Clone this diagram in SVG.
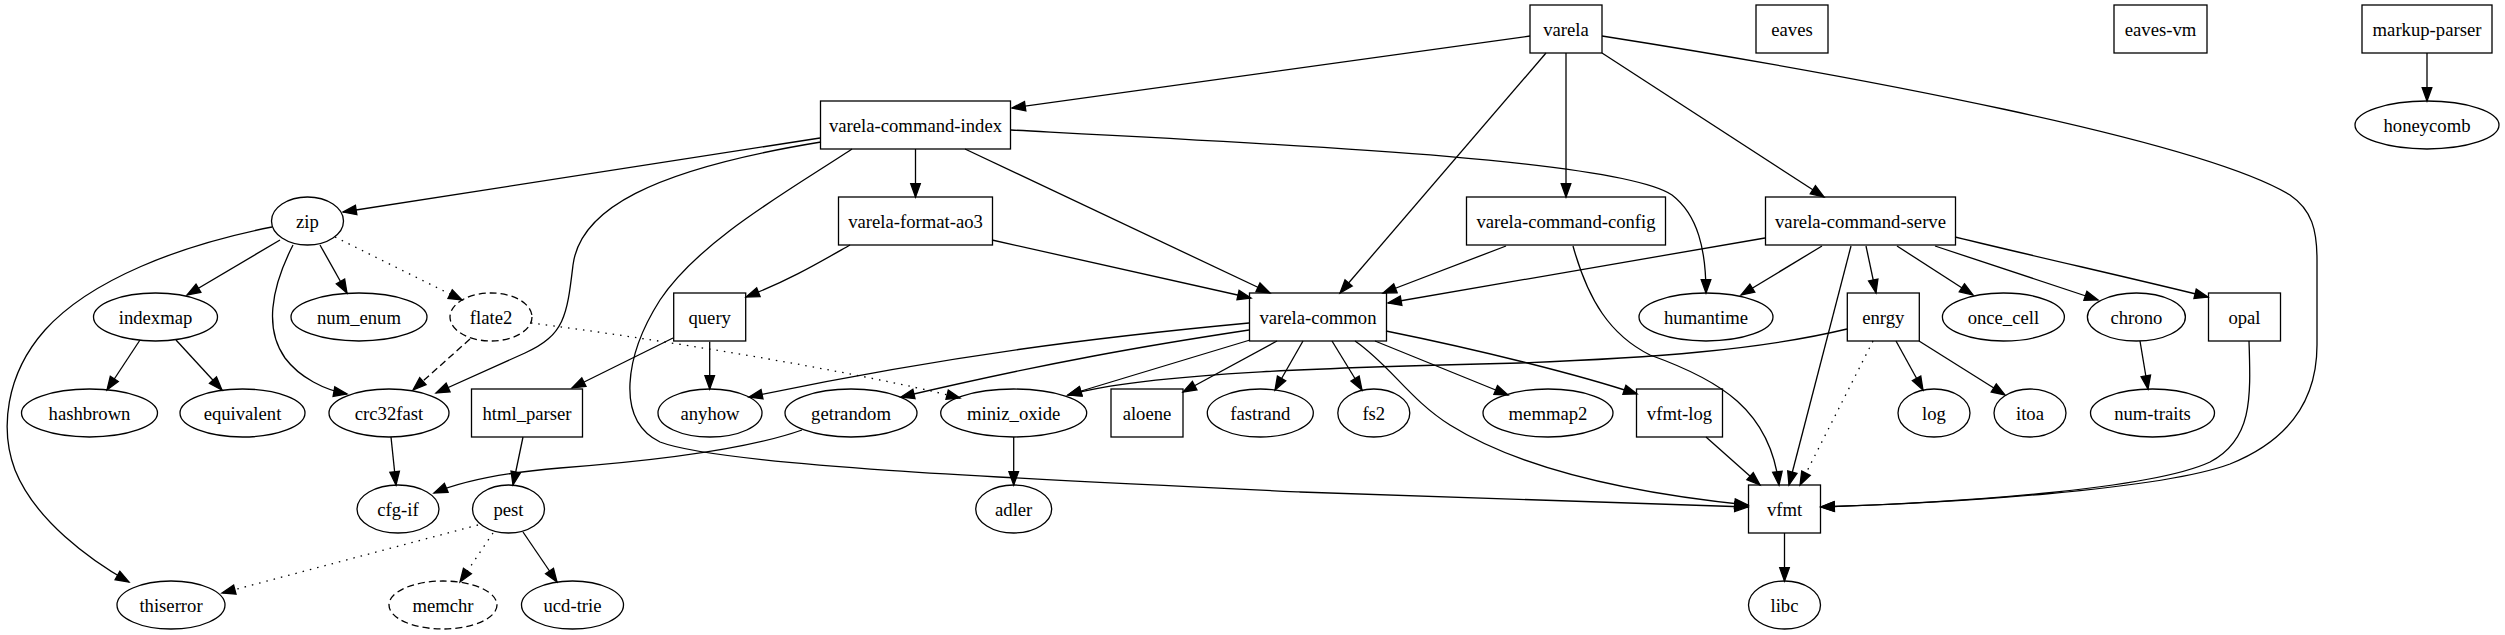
<svg xmlns="http://www.w3.org/2000/svg" width="2505" height="635" viewBox="0 0 2505 635">
<style>
.n rect,.n ellipse{fill:none;stroke:#000;stroke-width:1.3}
.n text{font-family:"Liberation Serif","Times New Roman",serif;font-size:18.67px;text-anchor:middle;fill:#000}
.d ellipse{stroke-dasharray:7,4}
#edges path{fill:none;stroke:#000;stroke-width:1.3;marker-end:url(#a)}
#edges path.dot{stroke-dasharray:1.5,6}
#edges path.dash{stroke-dasharray:7,4}
</style>
<defs>
<marker id="a" markerUnits="userSpaceOnUse" markerWidth="20" markerHeight="16" viewBox="-2 -8 20 16" refX="13.3" refY="0" orient="auto" overflow="visible">
<path d="M0,-4.8L13.3,0L0,4.8z" fill="#000" stroke="#000" stroke-width="1.3"/>
</marker>
</defs>
<rect width="2505" height="635" fill="#fff"/>
<g id="edges">
<path d="M1530,36 L1012,108"/>
<path d="M1546,53 L1340,293"/>
<path d="M1566,53 L1566,197"/>
<path d="M1602,53 L1824,197"/>
<path d="M1602,36 C1850,75 2200,140 2290,195 C2312,210 2317,230 2317,260 L2317,345 C2317,400 2290,440 2230,464 C2160,490 1950,503 1821,507"/>
<path d="M2249,341 C2251,400 2252,440 2210,462 C2150,490 1950,503 1821,507"/>
<path d="M820,138 L343,212"/>
<path d="M821,142 C650,170 580,210 573,265 C567,315 565,335 525,353 L436,393"/>
<path d="M915.5,149 L915.5,197"/>
<path d="M965,149 L1270,293"/>
<path d="M1011,130 C1300,145 1620,160 1672,195 C1698,215 1706,250 1706,293"/>
<path d="M852,149 C790,190 700,240 660,300 C625,355 615,420 660,442 C720,465 1000,478 1300,492 C1500,500 1650,505 1748,507"/>
<path d="M850,245 C820,262 790,280 746,297"/>
<path d="M992,240 L1251,298"/>
<path d="M1506,246 L1383,293"/>
<path d="M1765,238 L1388,303"/>
<path d="M1573,246 C1588,300 1610,335 1650,355 C1720,380 1770,410 1779,485"/>
<path d="M1822,246 L1741,295"/>
<path d="M1851,246 L1789,485"/>
<path d="M1866,246 L1876,293"/>
<path d="M1897,246 L1973,295"/>
<path d="M1935,246 L2098,300"/>
<path d="M1955,237 C2050,260 2140,280 2208,297"/>
<path d="M1249,323 C1100,337 950,355 749,397"/>
<path d="M1249,330 C1150,345 1050,362 901,397"/>
<path d="M1250,340 L1068,395"/>
<path d="M1847,329 C1760,350 1650,358 1520,363 C1350,367 1150,372 1068,395"/>
<path d="M1277,341 L1183,392"/>
<path d="M1303,341 L1275,390"/>
<path d="M1332,341 L1362,390"/>
<path d="M1355,341 C1390,365 1410,400 1450,425 C1530,475 1650,495 1748,505"/>
<path d="M1375,341 L1508,395"/>
<path d="M1386,331 C1480,350 1580,375 1637,394"/>
<path class="dot" d="M1873,341 L1800,485"/>
<path d="M1896,341 L1923,390"/>
<path d="M1919,341 L2005,395"/>
<path d="M2140,341 L2148,389"/>
<path d="M1706,437 L1760,485"/>
<path d="M1784.5,533 L1784.5,581"/>
<path d="M2427,53 L2427,101"/>
<path d="M280,240 L187,295"/>
<path d="M320,245 L347,293"/>
<path class="dot" d="M335,237 L462,300"/>
<path d="M293,245 C270,290 265,330 285,358 C300,378 325,390 347,394"/>
<path d="M272,227 C180,245 90,280 45,330 C5,375 0,430 15,470 C35,520 90,560 129,582"/>
<path d="M140,340 L107,390"/>
<path d="M176,340 L222,390"/>
<path class="dash" d="M470,339 L413,390"/>
<path class="dot" d="M531,323 C650,338 850,370 960,398"/>
<path d="M673,338 L572,388"/>
<path d="M709.7,341.7 L709.7,389"/>
<path d="M523,437 L513,485"/>
<path d="M802,430 C740,452 640,462 560,468 C500,473 460,482 434,493"/>
<path d="M391,437 L396,485"/>
<path class="dot" d="M478,525 L222,593"/>
<path class="dot" d="M493,533 L460,582"/>
<path d="M523,532 L557,582"/>
<path d="M1013.7,437 L1013.7,485"/>
</g>
<g id="varela" class="n"><rect x="1530" y="5" width="72" height="48"/><text x="1566" y="35.5">varela</text></g>
<g id="eaves" class="n"><rect x="1756" y="5" width="72" height="48"/><text x="1792" y="35.5">eaves</text></g>
<g id="eaves-vm" class="n"><rect x="2114" y="5" width="93" height="48"/><text x="2160.5" y="35.5">eaves-vm</text></g>
<g id="markup-parser" class="n"><rect x="2362" y="5" width="130" height="48"/><text x="2427" y="35.5">markup-parser</text></g>
<g id="varela-command-index" class="n"><rect x="820.5" y="101" width="190" height="48"/><text x="915.5" y="131.5">varela-command-index</text></g>
<g id="honeycomb" class="n"><ellipse cx="2427" cy="125" rx="72" ry="24"/><text x="2427" y="131.5">honeycomb</text></g>
<g id="zip" class="n"><ellipse cx="307.5" cy="221" rx="36" ry="24"/><text x="307.5" y="227.5">zip</text></g>
<g id="varela-format-ao3" class="n"><rect x="838.5" y="197" width="154" height="48"/><text x="915.5" y="227.5">varela-format-ao3</text></g>
<g id="varela-command-config" class="n"><rect x="1466.5" y="197" width="199" height="48"/><text x="1566" y="227.5">varela-command-config</text></g>
<g id="varela-command-serve" class="n"><rect x="1765.5" y="197" width="190" height="48"/><text x="1860.5" y="227.5">varela-command-serve</text></g>
<g id="indexmap" class="n"><ellipse cx="155.5" cy="317" rx="62" ry="24"/><text x="155.5" y="323.5">indexmap</text></g>
<g id="num_enum" class="n"><ellipse cx="359" cy="317" rx="68" ry="24"/><text x="359" y="323.5">num_enum</text></g>
<g id="flate2" class="n d"><ellipse cx="491" cy="317" rx="41" ry="24"/><text x="491" y="323.5">flate2</text></g>
<g id="query" class="n"><rect x="673.7" y="293" width="72" height="48"/><text x="709.7" y="323.5">query</text></g>
<g id="varela-common" class="n"><rect x="1249.5" y="293" width="137" height="48"/><text x="1318" y="323.5">varela-common</text></g>
<g id="humantime" class="n"><ellipse cx="1706" cy="317" rx="67" ry="24"/><text x="1706" y="323.5">humantime</text></g>
<g id="enrgy" class="n"><rect x="1847.3" y="293" width="72" height="48"/><text x="1883.3" y="323.5">enrgy</text></g>
<g id="once_cell" class="n"><ellipse cx="2003.4" cy="317" rx="61" ry="24"/><text x="2003.4" y="323.5">once_cell</text></g>
<g id="chrono" class="n"><ellipse cx="2136.4" cy="317" rx="49" ry="24"/><text x="2136.4" y="323.5">chrono</text></g>
<g id="opal" class="n"><rect x="2208.5" y="293" width="72" height="48"/><text x="2244.5" y="323.5">opal</text></g>
<g id="hashbrown" class="n"><ellipse cx="89.5" cy="413" rx="68" ry="24"/><text x="89.5" y="419.5">hashbrown</text></g>
<g id="equivalent" class="n"><ellipse cx="242.5" cy="413" rx="62.5" ry="24"/><text x="242.5" y="419.5">equivalent</text></g>
<g id="crc32fast" class="n"><ellipse cx="389" cy="413" rx="60" ry="24"/><text x="389" y="419.5">crc32fast</text></g>
<g id="html_parser" class="n"><rect x="471.5" y="389" width="111" height="48"/><text x="527" y="419.5">html_parser</text></g>
<g id="anyhow" class="n"><ellipse cx="710" cy="413" rx="52" ry="24"/><text x="710" y="419.5">anyhow</text></g>
<g id="getrandom" class="n"><ellipse cx="851" cy="413" rx="66" ry="24"/><text x="851" y="419.5">getrandom</text></g>
<g id="miniz_oxide" class="n"><ellipse cx="1013.7" cy="413" rx="73" ry="24"/><text x="1013.7" y="419.5">miniz_oxide</text></g>
<g id="aloene" class="n"><rect x="1111" y="389" width="72" height="48"/><text x="1147" y="419.5">aloene</text></g>
<g id="fastrand" class="n"><ellipse cx="1260.3" cy="413" rx="53" ry="24"/><text x="1260.3" y="419.5">fastrand</text></g>
<g id="fs2" class="n"><ellipse cx="1373.8" cy="413" rx="36" ry="24"/><text x="1373.8" y="419.5">fs2</text></g>
<g id="memmap2" class="n"><ellipse cx="1548" cy="413" rx="65" ry="24"/><text x="1548" y="419.5">memmap2</text></g>
<g id="vfmt-log" class="n"><rect x="1636.5" y="389" width="86" height="48"/><text x="1679.5" y="419.5">vfmt-log</text></g>
<g id="log" class="n"><ellipse cx="1934" cy="413" rx="36" ry="24"/><text x="1934" y="419.5">log</text></g>
<g id="itoa" class="n"><ellipse cx="2030" cy="413" rx="36" ry="24"/><text x="2030" y="419.5">itoa</text></g>
<g id="num-traits" class="n"><ellipse cx="2152.5" cy="413" rx="62" ry="24"/><text x="2152.5" y="419.5">num-traits</text></g>
<g id="cfg-if" class="n"><ellipse cx="398" cy="509" rx="41" ry="24"/><text x="398" y="515.5">cfg-if</text></g>
<g id="pest" class="n"><ellipse cx="508.5" cy="509" rx="36" ry="24"/><text x="508.5" y="515.5">pest</text></g>
<g id="adler" class="n"><ellipse cx="1013.7" cy="509" rx="38" ry="24"/><text x="1013.7" y="515.5">adler</text></g>
<g id="vfmt" class="n"><rect x="1748.5" y="485" width="72" height="48"/><text x="1784.5" y="515.5">vfmt</text></g>
<g id="thiserror" class="n"><ellipse cx="171" cy="605" rx="54" ry="24"/><text x="171" y="611.5">thiserror</text></g>
<g id="memchr" class="n d"><ellipse cx="443" cy="605" rx="54" ry="24"/><text x="443" y="611.5">memchr</text></g>
<g id="ucd-trie" class="n"><ellipse cx="572.5" cy="605" rx="51" ry="24"/><text x="572.5" y="611.5">ucd-trie</text></g>
<g id="libc" class="n"><ellipse cx="1784.5" cy="605" rx="36" ry="24"/><text x="1784.5" y="611.5">libc</text></g>
</svg>
